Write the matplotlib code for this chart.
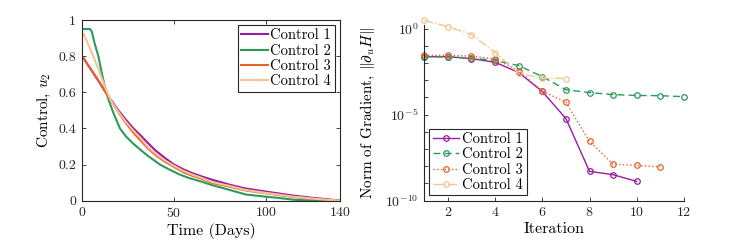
import matplotlib
matplotlib.use('Agg')
import matplotlib.pyplot as plt
from matplotlib.ticker import FixedLocator, NullFormatter

plt.rcParams['font.family'] = 'serif'
plt.rcParams['font.serif'] = ['cmr10']
plt.rcParams['mathtext.fontset'] = 'cm'
plt.rcParams['axes.formatter.use_mathtext'] = True

# --- left panel: control profiles u2(t) ---
days = [1, 5, 9, 13, 16, 20, 24, 28, 32, 36, 40, 45, 50, 55, 60, 65, 71, 80, 89, 100, 114, 126, 133, 140]
u1 = [0.788, 0.726, 0.664, 0.600, 0.555, 0.498, 0.447, 0.400, 0.360, 0.318, 0.278, 0.237, 0.200, 0.174,
      0.152, 0.134, 0.115, 0.089, 0.067, 0.050, 0.029, 0.015, 0.008, 0.0]
days2 = [1, 4.5, 5.5, 7, 9, 11, 13, 15, 17, 20.7, 24, 28, 32, 36, 42.4, 47, 53, 58, 65, 71, 80, 89, 100,
         107, 115, 122, 133, 140]
u2 = [0.95, 0.95, 0.935, 0.87, 0.80, 0.70, 0.61, 0.545, 0.49, 0.40, 0.355, 0.315, 0.28, 0.247, 0.20,
      0.175, 0.145, 0.126, 0.105, 0.085, 0.06, 0.034, 0.022, 0.015, 0.005, 0.002, 0.0, 0.0]
u3 = [0.788, 0.726, 0.664, 0.598, 0.550, 0.487, 0.428, 0.376, 0.332, 0.288, 0.252, 0.216, 0.187, 0.158,
      0.138, 0.121, 0.097, 0.078, 0.056, 0.041, 0.021, 0.010, 0.005, 0.0]
u4 = [0.922, 0.830, 0.730, 0.620, 0.550, 0.490, 0.435, 0.388, 0.345, 0.296, 0.260, 0.223, 0.193, 0.165,
      0.144, 0.126, 0.102, 0.082, 0.059, 0.043, 0.023, 0.011, 0.005, 0.0]

# --- right panel: gradient norm per iteration ---
it1 = [1, 2, 3, 4, 5, 6, 7, 8, 9, 10]
g1 = [2.3e-2, 2.3e-2, 1.8e-2, 1.1e-2, 2.8e-3, 2.2e-4, 5.9e-6, 5.0e-9, 3.2e-9, 1.3e-9]
it2 = [1, 2, 3, 4, 5, 6, 7, 8, 9, 10, 11, 12]
g2 = [2.3e-2, 2.3e-2, 1.9e-2, 1.4e-2, 7.1e-3, 1.6e-3, 2.8e-4, 1.9e-4, 1.45e-4, 1.3e-4, 1.25e-4, 1.1e-4]
it3 = [1, 2, 3, 4, 5, 6, 7, 8, 9, 10, 11]
g3 = [2.8e-2, 2.8e-2, 2.5e-2, 1.7e-2, 3.6e-3, 2.3e-4, 5.2e-5, 2.8e-7, 1.3e-8, 1.1e-8, 9.1e-9]
it4 = [1, 2, 3, 4, 5, 6, 7]
g4 = [2.95, 1.3, 0.45, 4.0e-2, 2.5e-3, 1.3e-3, 1.25e-3]

labels = ['Control 1', 'Control 2', 'Control 3', 'Control 4']
colors = ['#9a1aa3', '#2b9a5c', '#e8622e', '#f2c594']
axcol = '#262626'

fig = plt.figure(figsize=(7.43, 2.44), dpi=100)

# left
ax1 = fig.add_axes([0.110, 0.1775, 0.3477, 0.7406])
for t, u, c, lab in zip([days, days2, days, days], [u1, u2, u3, u4], colors, labels):
    ax1.plot(t, u, color=c, lw=1.5, label=lab)
ax1.set_xlim(0, 140)
ax1.set_ylim(0, 1)
ax1.set_xticks([0, 50, 100, 140])
ax1.set_yticks([0, 0.2, 0.4, 0.6, 0.8, 1])
ax1.set_yticklabels(['0', '0.2', '0.4', '0.6', '0.8', '1'])
ax1.set_xlabel('Time (Days)', fontsize=11.5, labelpad=2)
ax1.set_ylabel(r'Control, $u_2$', fontsize=11, labelpad=4)
ax1.tick_params(direction='in', top=True, right=True, length=3, width=0.6,
                labelsize=10, colors=axcol, pad=4)
for s in ax1.spines.values():
    s.set_color(axcol)
    s.set_linewidth(0.8)
leg1 = ax1.legend(loc='upper right', fontsize=10.5, frameon=True, fancybox=False,
                  edgecolor=axcol, framealpha=1, handlelength=1.8, handletextpad=0.2,
                  labelspacing=0.1, borderpad=0.25, borderaxespad=0.35)
leg1.get_frame().set_linewidth(0.8)

# right
ax2 = fig.add_axes([0.571, 0.178, 0.3495, 0.719])
styles = ['-', (0, (5, 3)), ':', '-.']
for it, g, c, ls, lab in zip([it1, it2, it3, it4], [g1, g2, g3, g4], colors, styles, labels):
    ax2.plot(it, g, color=c, ls=ls, lw=1.0, marker='o', ms=4, mfc='none', mew=0.9,
             label=lab, clip_on=False)
ax2.set_yscale('log')
ax2.set_xlim(1, 12)
ax2.set_ylim(1e-10, 10 ** 0.2)
ax2.set_xticks([2, 4, 6, 8, 10, 12])
ax2.yaxis.set_major_locator(FixedLocator([1e-10, 1e-5, 1e0]))
ax2.yaxis.set_minor_locator(FixedLocator([10.0 ** k for k in range(-10, 1)]))
ax2.yaxis.set_minor_formatter(NullFormatter())
ax2.set_xlabel('Iteration', fontsize=11.5, labelpad=2)
ax2.set_ylabel(r'Norm of Gradient, $\Vert\partial_u H\Vert$', fontsize=11, labelpad=6)
ax2.tick_params(which='both', direction='in', length=3, width=0.6,
                labelsize=10, colors=axcol, pad=4)
ax2.spines['top'].set_visible(False)
ax2.spines['right'].set_visible(False)
for s in ['left', 'bottom']:
    ax2.spines[s].set_color(axcol)
    ax2.spines[s].set_linewidth(0.8)
leg2 = ax2.legend(loc='lower left', fontsize=10.5, frameon=True, fancybox=False,
                  edgecolor=axcol, framealpha=1, handlelength=1.8, handletextpad=0.2,
                  labelspacing=0.1, borderpad=0.25, borderaxespad=0.35)
leg2.get_frame().set_linewidth(0.8)

fig.savefig('out.png', dpi=100)
